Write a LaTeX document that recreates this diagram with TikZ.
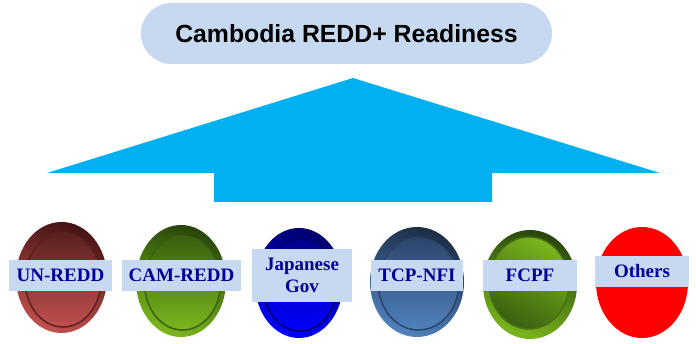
\documentclass[tikz,border=0pt]{standalone}
\usepackage{fontspec}
\setmainfont{Liberation Serif}
\newfontfamily\arialfont{Liberation Sans}
\usetikzlibrary{shapes.geometric}
\definecolor{pillblue}{RGB}{198,217,241}
\definecolor{arrowblue}{RGB}{0,176,240}
\definecolor{labelblue}{RGB}{0,0,153}
\definecolor{rA}{RGB}{70,20,20}
\definecolor{rB}{RGB}{192,80,77}
\definecolor{rC}{RGB}{90,32,32}
\definecolor{gA}{RGB}{40,70,10}
\definecolor{gB}{RGB}{122,181,29}
\definecolor{gC}{RGB}{58,96,16}
\definecolor{bA}{RGB}{0,0,110}
\definecolor{bB}{RGB}{0,0,255}
\definecolor{bC}{RGB}{0,0,140}
\definecolor{sA}{RGB}{28,45,70}
\definecolor{sB}{RGB}{79,129,189}
\definecolor{sC}{RGB}{44,70,108}
\tikzset{
  lbl/.style={fill=pillblue, text=labelblue, font=\bfseries\fontsize{19}{22}\selectfont, inner sep=0pt, align=center},
}
\begin{document}
\begin{tikzpicture}[x=1pt,y=1pt]
\useasboundingbox (0,0) rectangle (696,344);
% title pill
\node[fill=pillblue, rounded corners=30.5pt, minimum width=411pt, minimum height=61pt, font=\arialfont\bfseries\fontsize{24.8}{24.8}\selectfont, inner sep=0pt] (title) at (346.5,310.5) {Cambodia REDD+ Readiness};
% big arrow
\fill[arrowblue] (353,266) coordinate (tip) -- (660,171) -- (492,171) -- (492,142) -- (214,142) -- (214,171) -- (47,171) -- cycle;
% UN-REDD
\shade[top color=rA, bottom color=rB, shading angle=-20] (61.5,66.5) ellipse [x radius=45.5, y radius=55.5];
\shade[top color=rC, bottom color=rB] (63,64) ellipse [x radius=38, y radius=47];
\draw[rA!80!rB, line width=1.5pt] (63,64) ellipse [x radius=38, y radius=47];
% CAM-REDD
\shade[top color=gA, bottom color=gB, shading angle=-20] (181,63) ellipse [x radius=45, y radius=56];
\shade[top color=gC, bottom color=gB] (182.5,61) ellipse [x radius=38, y radius=47];
\draw[gC, line width=1.5pt] (182.5,61) ellipse [x radius=38, y radius=47];
% Japanese Gov
\shade[top color=bA, bottom color=bB, shading angle=-20] (299,61) ellipse [x radius=44, y radius=55];
\shade[top color=bC, bottom color=bB] (300,59) ellipse [x radius=37, y radius=46];
\draw[bA, line width=1.5pt] (300,59) ellipse [x radius=37, y radius=46];
% TCP-NFI
\shade[top color=sA, bottom color=sB, shading angle=-20] (417,62) ellipse [x radius=47, y radius=55];
\shade[top color=sC, bottom color=sB] (418.5,60) ellipse [x radius=40, y radius=46];
\draw[sA!70!sB, line width=1.5pt] (418.5,60) ellipse [x radius=40, y radius=46];
% FCPF
\shade[top color=gA, bottom color=gB, shading angle=-20] (530,59.5) ellipse [x radius=47, y radius=54.5];
\shade[top color=gB, bottom color=gC, shading angle=-30] (529,61) ellipse [x radius=40, y radius=46];
\draw[gC!80!gB, line width=1.5pt] (529,61) ellipse [x radius=40, y radius=46];
% Others
\fill[red] (642,61.5) ellipse [x radius=46, y radius=55.5];
% labels
\node[lbl, minimum width=103pt, minimum height=31pt] (l1) at (60.5,68.5) {UN-REDD};
\node[lbl, minimum width=119pt, minimum height=31pt] (l2) at (181.5,68.5) {CAM-REDD};
\node[lbl, minimum width=100pt, minimum height=53pt] (l3) at (302,68.5) {Japanese\\Gov};
\node[lbl, minimum width=92pt, minimum height=31pt] (l4) at (417,68.5) {TCP-NFI};
\node[lbl, minimum width=94pt, minimum height=31pt] (l5) at (530,68.5) {FCPF};
\node[lbl, minimum width=94pt, minimum height=31pt] (l6) at (642,72.5) {Others};
\end{tikzpicture}
\end{document}
